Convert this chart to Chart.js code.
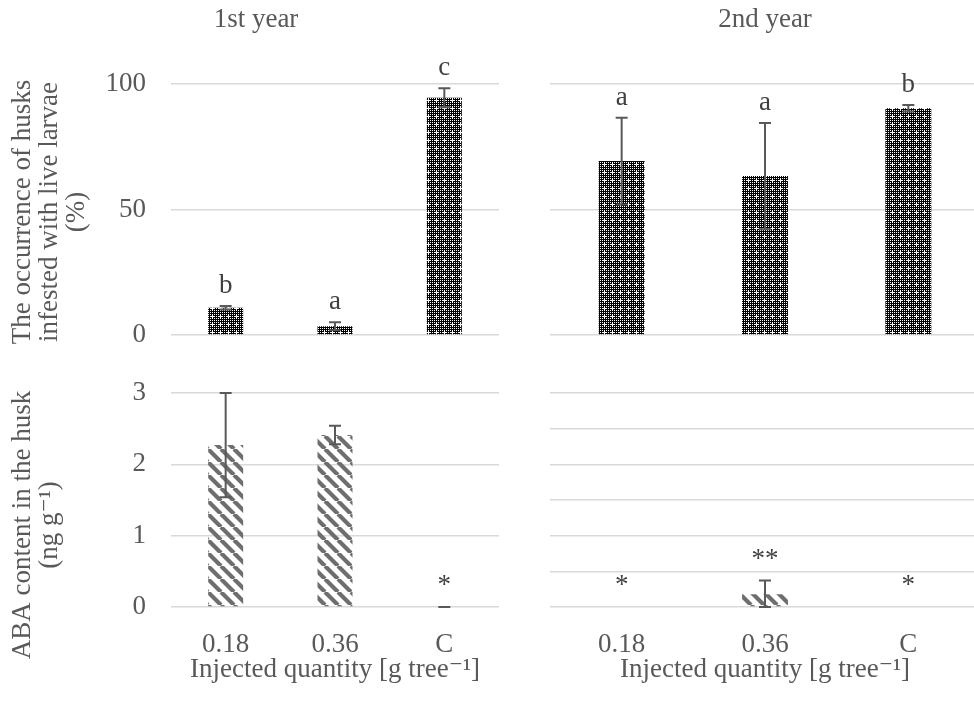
<!DOCTYPE html>
<html>
<head>
<meta charset="utf-8">
<script src="https://cdn.jsdelivr.net/npm/chart.js@4"></script>
<style>
  html, body { margin: 0; padding: 0; width: 974px; height: 704px; overflow: hidden; background: #fff; }
  canvas { position: absolute; }
</style>
</head>
<body>
<canvas id="tl" width="510" height="380" style="left:0;top:0"></canvas>
<canvas id="tr" width="496" height="380" style="left:504px;top:0"></canvas>
<canvas id="bl" width="510" height="359" style="left:0;top:345px"></canvas>
<canvas id="br" width="496" height="359" style="left:504px;top:345px"></canvas>
<script>
// categories: injected quantity
const doses = ['0.18', '0.36', 'C'];

// husks infested with live larvae (%)
const larvae1 = [10.9, 3.5, 94.5];
const larvaeErr1 = [0.7, 1.6, 3.8];
const larvaeLetters1 = ['b', 'a', 'c'];
const larvae2 = [69.3, 63.3, 90.3];
const larvaeErr2 = [17.3, 21.2, 1.3];
const larvaeLetters2 = ['a', 'a', 'b'];

// ABA content in the husk (ng g-1)
const aba1 = [2.27, 2.41, 0];
const abaErr1 = [0.73, 0.13, 0];
const abaMarks1 = ['', '', '*'];
const aba2 = [0, 0.18, 0];
const abaErr2 = [null, 0.19, null];
const abaMarks2 = ['*', '**', '*'];

const SERIF = '"Liberation Serif", "Times New Roman", "DejaVu Serif", serif';
const GREY = '#595959';
Chart.defaults.font.family = SERIF;
Chart.defaults.font.size = 27;
Chart.defaults.color = GREY;

function dotPattern() {
  const c = document.createElement('canvas');
  c.width = 8; c.height = 8;
  const g = c.getContext('2d');
  g.fillStyle = '#000';
  g.fillRect(0, 0, 8, 8);
  g.fillStyle = '#fff';
  for (let y = 0; y < 8; y += 2)
    for (let x = 0; x < 8; x += 2) g.fillRect(x, y, 1, 1);
  g.fillRect(3, 4, 3, 1);
  g.fillRect(4, 3, 1, 3);
  return g.createPattern(c, 'repeat');
}

function stripePattern() {
  const s = 13;
  const c = document.createElement('canvas');
  c.width = s; c.height = s;
  const g = c.getContext('2d');
  g.strokeStyle = '#6e6e6e';
  g.lineWidth = 4.2;
  g.beginPath();
  for (const o of [-s, 0, s]) { g.moveTo(o, 0); g.lineTo(o + s, s); }
  g.stroke();
  return g.createPattern(c, 'repeat');
}

// error bars + significance letters above them
const errorBars = {
  id: 'errorBars',
  afterDatasetsDraw(chart, args, o) {
    const ds = chart.data.datasets[0];
    const meta = chart.getDatasetMeta(0);
    const y = chart.scales.y;
    const ctx = chart.ctx;
    ctx.save();
    ctx.lineWidth = 2;
    ctx.strokeStyle = GREY;
    meta.data.forEach((bar, i) => {
      const v = ds.data[i], e = ds.errors[i];
      let top = bar.y;
      if (e != null) {
        const hi = y.getPixelForValue(v + e);
        const lo = y.getPixelForValue(Math.max(v - e, 0));
        ctx.beginPath();
        ctx.moveTo(bar.x, hi); ctx.lineTo(bar.x, lo);
        ctx.moveTo(bar.x - 6, hi); ctx.lineTo(bar.x + 6, hi);
        ctx.moveTo(bar.x - 6, lo); ctx.lineTo(bar.x + 6, lo);
        ctx.stroke();
        top = Math.min(top, hi);
      }
      const m = ds.marks[i];
      if (m) {
        ctx.fillStyle = '#404040';
        ctx.font = '27px ' + SERIF;
        ctx.textAlign = 'center';
        ctx.textBaseline = 'alphabetic';
        ctx.fillText(m, bar.x, top - o.gap);
      }
    });
    ctx.restore();
  }
};

// rotated y-axis title lines
const sideTitle = {
  id: 'sideTitle',
  afterDraw(chart, args, o) {
    if (!o.lines) return;
    const ctx = chart.ctx;
    ctx.save();
    ctx.font = '27px ' + SERIF;
    ctx.fillStyle = GREY;
    ctx.textAlign = 'center';
    ctx.textBaseline = 'middle';
    o.lines.forEach((t, i) => {
      ctx.save();
      ctx.translate(o.x[i], o.y);
      ctx.rotate(-Math.PI / 2);
      ctx.fillText(t, 0, 0);
      ctx.restore();
    });
    ctx.restore();
  }
};

function panel(id, cfg) {
  const showX = cfg.xTitle != null;
  return new Chart(document.getElementById(id), {
    type: 'bar',
    data: {
      labels: doses,
      datasets: [{
        data: cfg.values,
        errors: cfg.errors,
        marks: cfg.marks,
        backgroundColor: cfg.fill,
        borderWidth: 0,
        categoryPercentage: 1,
        barPercentage: 0.32
      }]
    },
    options: {
      responsive: false,
      animation: false,
      layout: { padding: cfg.padding },
      plugins: {
        legend: { display: false },
        tooltip: { enabled: false },
        title: {
          display: cfg.title != null,
          text: cfg.title,
          color: GREY,
          font: { size: 27, weight: 'normal' },
          padding: { top: 4, bottom: 47.6 }
        },
        errorBars: { gap: cfg.gap },
        sideTitle: cfg.side || {}
      },
      scales: {
        x: {
          display: showX,
          grid: { display: false, drawTicks: false },
          border: { display: false },
          ticks: { padding: 22, color: GREY },
          title: {
            display: showX,
            text: cfg.xTitle,
            color: GREY,
            padding: { top: 0, bottom: 18 }
          },
          afterFit: s => { if (showX) s.height = 97; }
        },
        y: {
          min: 0,
          max: cfg.max,
          grid: { color: '#d9d9d9', lineWidth: 1.5, drawTicks: false },
          border: { display: false },
          ticks: { display: cfg.yTicks, stepSize: cfg.step, padding: 25, color: GREY },
          afterFit: s => { s.width = cfg.yWidth; }
        }
      }
    },
    plugins: [errorBars, sideTitle]
  });
}

const dots = dotPattern();
const stripes = stripePattern();
const xTitle = 'Injected quantity [g tree\u207B\u00B9]';

panel('tl', {
  values: larvae1, errors: larvaeErr1, marks: larvaeLetters1, fill: dots,
  title: '1st year', max: 100, step: 50, yTicks: true, yWidth: 158, gap: 13,
  padding: { top: 0, right: 11, bottom: 45, left: 13 },
  side: { lines: ['The occurrence of husks', 'infested with live larvae', '(%)'], x: [23, 50, 77], y: 212 }
});
panel('tr', {
  values: larvae2, errors: larvaeErr2, marks: larvaeLetters2, fill: dots,
  title: '2nd year', max: 100, step: 50, yTicks: false, yWidth: 0, gap: 13,
  padding: { top: 0, right: 20, bottom: 45, left: 46 }
});
panel('bl', {
  values: aba1, errors: abaErr1, marks: abaMarks1, fill: stripes,
  xTitle: xTitle, max: 3, step: 1, yTicks: true, yWidth: 158, gap: 14,
  padding: { top: 48, right: 11, bottom: 0, left: 13 },
  side: { lines: ['ABA content in the husk', '(ng g\u207B\u00B9)'], x: [23, 50], y: 525 - 345 }
});
panel('br', {
  values: aba2, errors: abaErr2, marks: abaMarks2, fill: stripes,
  xTitle: xTitle, max: 3, step: 0.5, yTicks: false, yWidth: 0, gap: 14,
  padding: { top: 48, right: 20, bottom: 0, left: 46 }
});
</script>
</body>
</html>
